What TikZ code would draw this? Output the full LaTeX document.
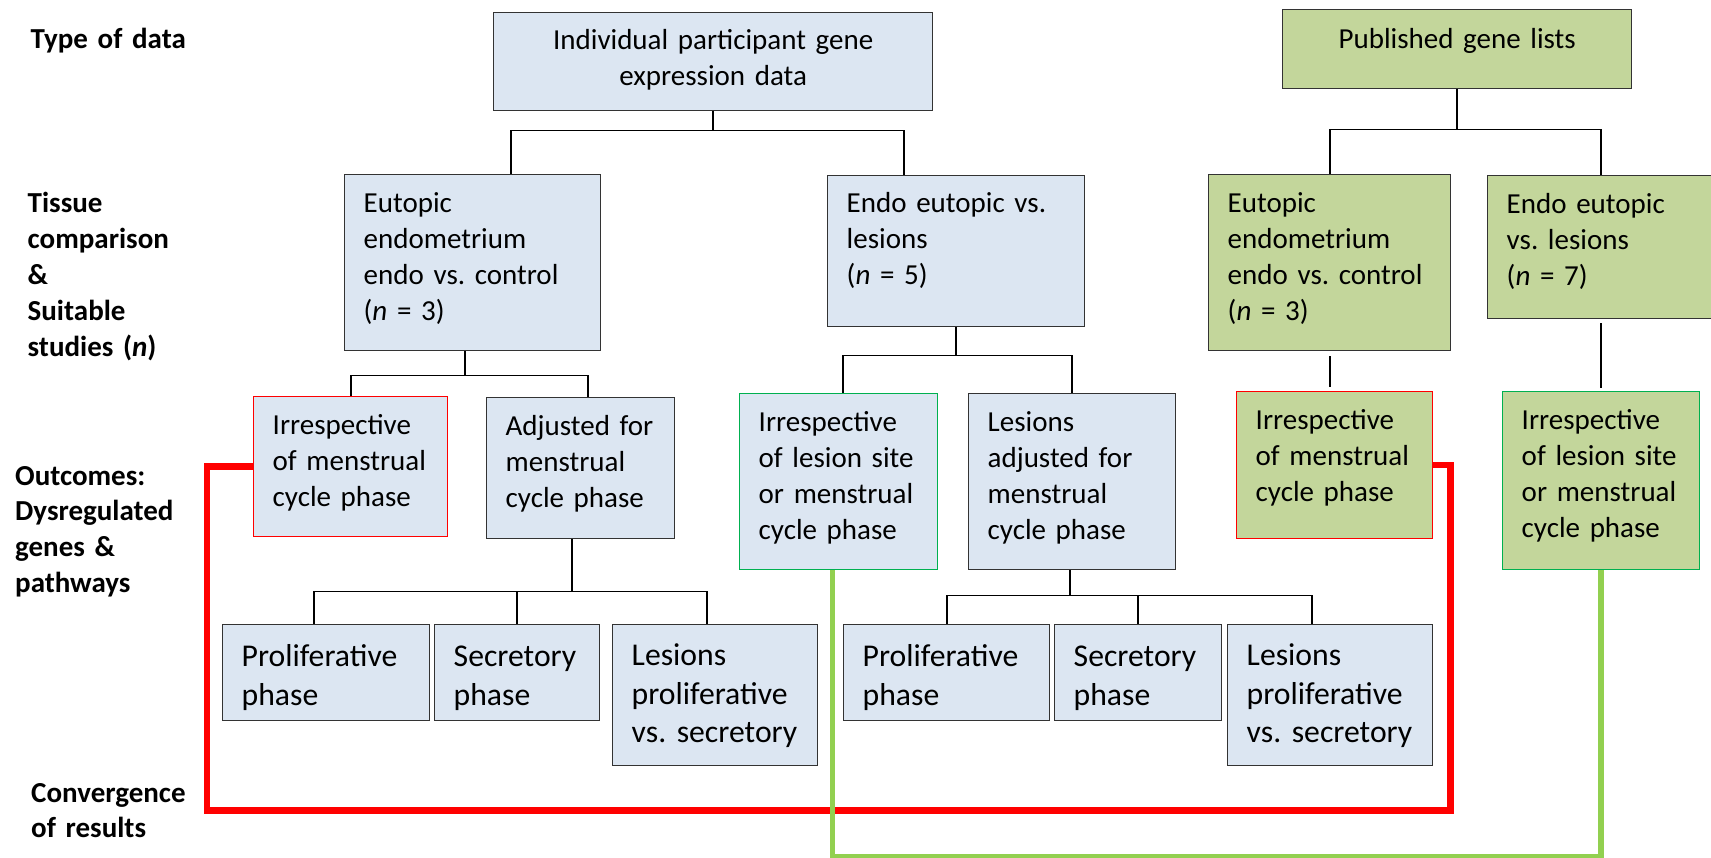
\documentclass[tikz,border=0pt]{standalone}
\usepackage{fontspec}
\setmainfont{Carlito}
\definecolor{bluefill}{HTML}{DCE6F2}
\definecolor{greenfill}{HTML}{C3D69B}
\definecolor{convred}{HTML}{FF0000}
\definecolor{convgreen}{HTML}{92D050}
\definecolor{framegreen}{HTML}{00B050}
\newcommand{\txtfont}{\fontsize{29}{35.8}\selectfont}
\newcommand{\phasefont}{\fontsize{31.7}{38.4}\selectfont}
\frenchspacing
\hyphenpenalty=10000
\begin{document}
\begin{tikzpicture}
[x=1pt,y=-1pt,%
  every node/.style={anchor=north west,inner xsep=19pt,inner ysep=0pt,align=left,line width=1.4pt,font=\txtfont},%
  bluebox/.style={draw=black!80,fill=bluefill},%
  greenbox/.style={draw=black!80,fill=greenfill},%
  redframe/.style={draw=convred},%
  greenframe/.style={draw=framegreen},%
  dims/.style n args={3}{text width=#1pt,text height=#2pt,text depth=#3pt},%
  heading/.style={anchor=base west,inner sep=0pt,text width=200pt,font=\txtfont\bfseries},%
  conn/.style={line width=1.6pt,black},%
  redline/.style={line width=6.5pt,convred},%
  greenline/.style={line width=5.5pt,convgreen}]
\useasboundingbox (0,0) rectangle (1711,858);
\node[heading] (typelbl) at (30,49) {Type of data};
\node[heading] (tisslbl) at (27,213) {Tissue\\comparison\\\&\\Suitable\\studies (\textit{n})};
\node[heading] (outlbl) at (14.5,485) {Outcomes:\\Dysregulated\\genes \&\\pathways};
\node[heading] (convlbl) at (30.5,802) {Convergence\\of results};

\node[bluebox,align=center,dims={401}{37}{61}] (ipd) at (493,12) {Individual participant gene\\expression data};
\node[greenbox,align=center,dims={311}{39}{40}] (pgl) at (1282,9) {Published gene lists};

\node[bluebox,dims={218}{38}{138}] (eut) at (344,174) {Eutopic\\endometrium\\endo vs. control\\(\textit{n} = 3)};
\node[bluebox,dims={219}{37}{114}] (les) at (827,175) {Endo eutopic vs.\\lesions\\(\textit{n} = 5)};
\node[greenbox,dims={204}{38}{138}] (geut) at (1208,174) {Eutopic\\endometrium\\endo vs. control\\(\textit{n} = 3)};
\node[greenbox,dims={188}{38}{105}] (gles) at (1487,175) {Endo eutopic\\vs. lesions\\(\textit{n} = 7)};

\node[bluebox,redframe,dims={156}{38}{102}] (irr) at (253,396) {Irrespective\\of menstrual\\cycle phase};
\node[bluebox,dims={150}{38}{103}] (adj) at (486,397) {Adjusted for\\menstrual\\cycle phase};
\node[bluebox,greenframe,dims={160}{38}{138}] (irrl) at (739,393) {Irrespective\\of lesion site\\or menstrual\\cycle phase};
\node[bluebox,dims={169}{38}{138}] (ladj) at (968,393) {Lesions\\adjusted for\\menstrual\\cycle phase};
\node[greenbox,redframe,dims={158}{38}{109}] (girr) at (1236,391) {Irrespective\\of menstrual\\cycle phase};
\node[greenbox,greenframe,dims={159}{38}{140}] (girrl) at (1502,391) {Irrespective\\of lesion site\\or menstrual\\cycle phase};

\node[bluebox,font=\phasefont,dims={169}{42}{54}] (pro1) at (222,624) {Proliferative\\phase};
\node[bluebox,font=\phasefont,dims={127}{42}{54}] (sec1) at (434,624) {Secretory\\phase};
\node[bluebox,font=\phasefont,dims={167}{41}{100}] (lps1) at (612,624) {Lesions\\proliferative\\vs. secretory};
\node[bluebox,font=\phasefont,dims={168}{42}{54}] (pro2) at (843,624) {Proliferative\\phase};
\node[bluebox,font=\phasefont,dims={129}{42}{54}] (sec2) at (1054,624) {Secretory\\phase};
\node[bluebox,font=\phasefont,dims={167}{41}{100}] (lps2) at (1227,624) {Lesions\\proliferative\\vs. secretory};

\foreach \c/\dx in {eut/38,les/-52}
  \draw[conn] (ipd.south) -- ++(0,19) -| ([xshift=\dx pt]\c.north);
\foreach \c in {geut,gles}
  \draw[conn] (pgl.south) -- ++(0,40) -| (\c.north);
\foreach \c/\dx in {irr/0,adj/7}
  \draw[conn] ([xshift=-8pt]eut.south) -- ++(0,24) -| ([xshift=\dx pt]\c.north);
\foreach \c/\dx in {irrl/4,ladj/0}
  \draw[conn] (les.south) -- ++(0,28) -| ([xshift=\dx pt]\c.north);
\draw[conn,shorten <=5pt,shorten >=4pt] (geut.south) -- (geut.south |- girr.north);
\draw[conn,shorten <=4pt,shorten >=3pt] (gles.south) -- (gles.south |- girrl.north);
\foreach \c/\dx in {pro1/-12,sec1/0,lps1/-8}
  \draw[conn] ([xshift=-9pt]adj.south) -- ++(0,52) -| ([xshift=\dx pt]\c.north);
\foreach \c/\dx in {pro2/0,sec2/0,lps2/-18}
  \draw[conn] ([xshift=-2pt]ladj.south) -- ++(0,25) -| ([xshift=\dx pt]\c.north);

\draw[redline] (irr.west) -- ++(-46,0) -- ++(0,344) -| ([xshift=17pt]girr.east) -- (girr.east);
\draw[greenline] ([xshift=-6pt]irrl.south) -- ++(0,286) -| (girrl.south);
\end{tikzpicture}
\end{document}
